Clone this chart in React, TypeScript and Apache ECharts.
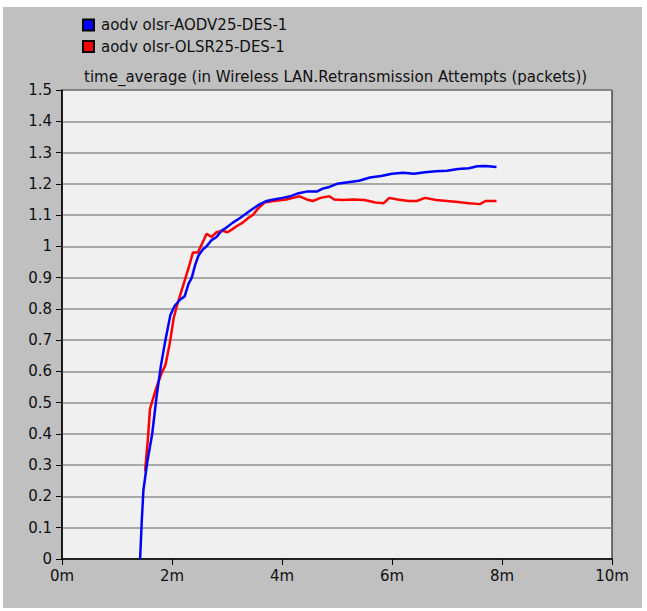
import React, { useEffect, useRef } from "react";
import * as echarts from "echarts";

const seriesNames = ["aodv olsr-AODV25-DES-1", "aodv olsr-OLSR25-DES-1"];
const xTicks = [0, 2, 4, 6, 8, 10];
const titleText = "time_average (in Wireless LAN.Retransmission Attempts (packets))";

// [minutes, value]
const aodvData: [number, number][] = [
  [1.42, 0], [1.45, 0.12], [1.48, 0.22], [1.55, 0.31], [1.64, 0.4], [1.72, 0.52],
  [1.8, 0.62], [1.88, 0.7], [1.97, 0.78], [2.05, 0.81], [2.15, 0.83], [2.23, 0.84],
  [2.3, 0.88], [2.36, 0.9], [2.42, 0.94], [2.48, 0.97], [2.56, 0.99], [2.63, 1.0],
  [2.72, 1.02], [2.81, 1.03], [2.9, 1.05], [2.99, 1.06], [3.1, 1.075], [3.23, 1.09],
  [3.35, 1.105], [3.47, 1.12], [3.6, 1.135], [3.72, 1.145], [3.85, 1.15], [4.01, 1.155],
  [4.15, 1.16], [4.3, 1.17], [4.45, 1.175], [4.63, 1.175], [4.75, 1.185], [4.86, 1.19],
  [5.0, 1.2], [5.2, 1.205], [5.4, 1.21], [5.6, 1.22], [5.8, 1.225], [6.0, 1.232],
  [6.2, 1.235], [6.4, 1.232], [6.6, 1.237], [6.8, 1.24], [7.0, 1.242], [7.2, 1.247],
  [7.4, 1.25], [7.55, 1.256], [7.7, 1.257], [7.9, 1.254],
];

const olsrData: [number, number][] = [
  [1.51, 0.28], [1.56, 0.38], [1.6, 0.48], [1.65, 0.51], [1.72, 0.55], [1.8, 0.59],
  [1.88, 0.62], [1.96, 0.69], [2.03, 0.77], [2.09, 0.81], [2.16, 0.85], [2.23, 0.89],
  [2.3, 0.93], [2.38, 0.98], [2.47, 0.98], [2.55, 1.01], [2.63, 1.04], [2.72, 1.03],
  [2.81, 1.045], [2.92, 1.05], [3.01, 1.045], [3.1, 1.055], [3.18, 1.065], [3.28, 1.075],
  [3.38, 1.09], [3.47, 1.1], [3.56, 1.12], [3.68, 1.14], [3.85, 1.145], [4.08, 1.15],
  [4.2, 1.155], [4.32, 1.16], [4.45, 1.15], [4.56, 1.145], [4.7, 1.155], [4.86, 1.16],
  [4.95, 1.15], [5.1, 1.148], [5.3, 1.15], [5.5, 1.148], [5.7, 1.14], [5.85, 1.138],
  [5.95, 1.155], [6.1, 1.15], [6.3, 1.145], [6.45, 1.145], [6.6, 1.155], [6.8, 1.148],
  [7.0, 1.145], [7.2, 1.142], [7.4, 1.138], [7.6, 1.135], [7.7, 1.145], [7.9, 1.145],
];

const FONT = "DejaVu Sans, sans-serif";
const FS = 15;
const TXT = "#111";

export default function App() {
  const ref = useRef<HTMLDivElement>(null);
  useEffect(() => {
    if (!ref.current) return;
    const chart = echarts.init(ref.current, undefined, { renderer: "svg" });
    chart.setOption({
      animation: false,
      backgroundColor: "#ffffff",
      textStyle: { fontFamily: FONT },
      graphic: [
        {
          type: "rect",
          z: -10,
          shape: { x: 3, y: 7, width: 639, height: 601 },
          style: { fill: "#c0c0c0" },
          silent: true,
        },
      ],
      title: {
        text: titleText,
        left: 80,
        top: 69,
        padding: [0, 0, 0, 4],
        textStyle: { fontSize: FS, fontWeight: "normal", color: TXT, fontFamily: FONT, lineHeight: 16 },
      },
      legend: {
        data: seriesNames,
        orient: "vertical",
        left: 82,
        top: 17,
        padding: 0,
        itemWidth: 11,
        itemHeight: 11,
        itemGap: 5.5,
        icon: "rect",
        textStyle: { fontSize: FS, color: TXT, fontFamily: FONT, lineHeight: 16, padding: [0, 0, 0, 2] },
      },
      grid: {
        left: 62,
        right: 35,
        top: 90,
        bottom: 52,
        show: true,
        backgroundColor: "#f0f0f0",
        borderColor: "#000",
        borderWidth: 1,
      },
      xAxis: {
        type: "value",
        min: 0,
        max: 10,
        interval: 2,
        axisLine: { show: true, lineStyle: { color: "#000", width: 1.5 } },
        axisTick: { show: true, length: 6, lineStyle: { color: "#000" } },
        axisLabel: {
          color: TXT,
          fontSize: FS,
          margin: 9,
          fontFamily: FONT,
          formatter: (v: number) => (xTicks.includes(v) ? `${v}m` : ""),
        },
        splitLine: { show: false },
      },
      yAxis: {
        type: "value",
        min: 0,
        max: 1.5,
        interval: 0.1,
        axisLine: { show: true, lineStyle: { color: "#000", width: 1.5 } },
        axisTick: { show: true, length: 6, lineStyle: { color: "#000" } },
        axisLabel: {
          color: TXT,
          fontSize: FS,
          margin: 10,
          fontFamily: FONT,
          formatter: (v: number) => String(Math.round(v * 10) / 10),
        },
        splitLine: { show: true, lineStyle: { color: "#909090", width: 1.5 } },
      },
      series: [
        {
          name: seriesNames[1],
          type: "line",
          data: olsrData,
          showSymbol: false,
          symbol: "none",
          z: 2,
          lineStyle: { color: "#ff0000", width: 2.5 },
          itemStyle: { color: "#ff0000", borderColor: "#000", borderWidth: 1 },
        },
        {
          name: seriesNames[0],
          type: "line",
          data: aodvData,
          showSymbol: false,
          symbol: "none",
          z: 3,
          lineStyle: { color: "#0000ff", width: 2.5 },
          itemStyle: { color: "#0000ff", borderColor: "#000", borderWidth: 1 },
        },
      ],
    });
    return () => chart.dispose();
  }, []);
  return (
    <div
      ref={ref}
      style={{ position: "fixed", left: 0, top: 0, width: 647, height: 611 }}
    />
  );
}
